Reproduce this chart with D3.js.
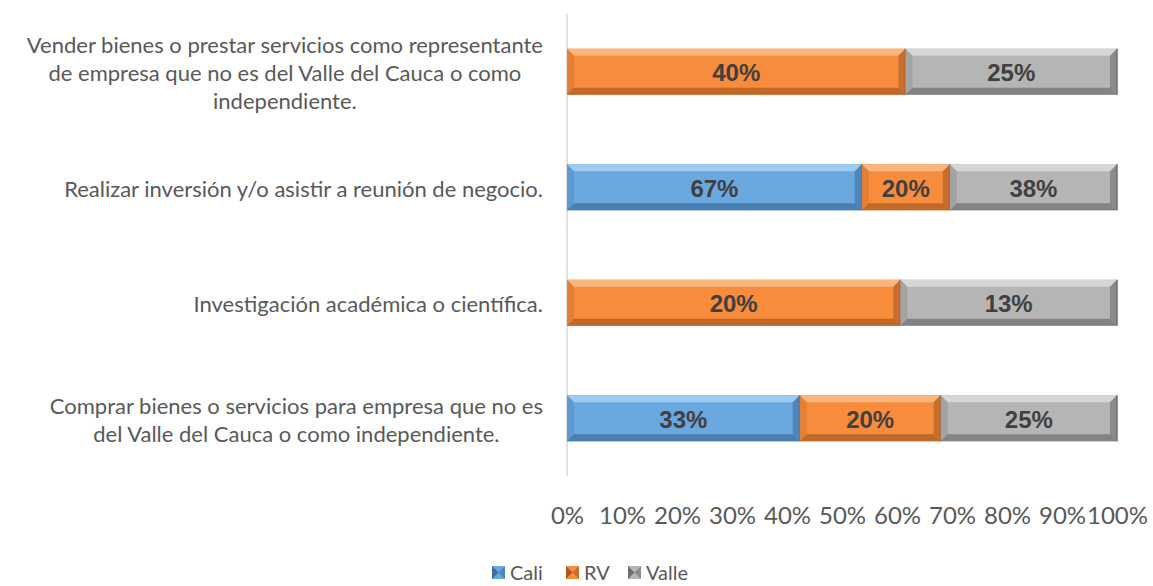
<!DOCTYPE html>
<html>
<head>
<meta charset="utf-8">
<script src="https://cdn.jsdelivr.net/npm/d3@7"></script>
<style>
  body { margin: 0; background: #fff; }
  svg { display: block; }
</style>
</head>
<body>
<svg id="chart" width="1153" height="586"></svg>
<script>
// datos
const categories = [
    ['Vender bienes o prestar servicios como representante', 'de empresa que no es del Valle del Cauca o como', 'independiente.'],
    ['Realizar inversión y/o asistir a reunión de negocio.'],
    ['Investigación académica o científica.'],
    ['Comprar bienes o servicios para empresa que no es', 'del Valle del Cauca o como independiente.']
];
const series = ['Cali', 'RV', 'Valle'];
const cali = [0, 67, 0, 33];
const rv = [40, 20, 20, 20];
const valle = [25, 38, 13, 25];
const ticks = [0, 10, 20, 30, 40, 50, 60, 70, 80, 90, 100];

const colors = { Cali: '#6aa8e0', RV: '#f78c3c', Valle: '#b5b5b5' };
const lightC = { Cali: '#a9d2f5', RV: '#fbc08f', Valle: '#dedede' };
const darkC = { Cali: '#3d6e9c', RV: '#a85a22', Valle: '#6e6e6e' };

const svg = d3.select('#chart');
const margin = { left: 567, right: 36, top: 14, bottom: 110 };
const width = 1153, height = 586;
const labelFont = 'Lato, Open Sans, sans-serif';

const x = d3.scaleLinear().domain([0, 100]).range([margin.left, width - margin.right]);
const y = d3.scaleBand().domain(d3.range(categories.length))
    .range([margin.top, height - margin.bottom]).paddingInner(0.6).paddingOuter(0.3);

// armar filas 100% apiladas
const rows = categories.map((c, i) => {
    const vals = { Cali: cali[i], RV: rv[i], Valle: valle[i] };
    const total = cali[i] + rv[i] + valle[i];
    let acc = 0;
    return series.filter(s => vals[s] > 0).map(s => {
        const seg = { key: s, row: i, v: vals[s], x0: acc, x1: acc + vals[s] / total * 100 };
        acc = seg.x1;
        return seg;
    });
});

// eje vertical
svg.append('line')
    .attr('x1', x(0)).attr('x2', x(0))
    .attr('y1', margin.top).attr('y2', height - margin.bottom)
    .attr('stroke', '#d9d9d9').attr('stroke-width', 1.5);

// barras con bisel
const b = 7;
rows.flat().forEach(d => {
    const x0 = x(d.x0), x1 = x(d.x1), y0 = y(d.row), h = y.bandwidth(), y1 = y0 + h;
    const g = svg.append('g');
    g.append('rect').attr('x', x0).attr('y', y0).attr('width', x1 - x0).attr('height', h)
        .attr('fill', colors[d.key]);
    const poly = (pts, fill, op) => g.append('polygon')
        .attr('points', pts.map(p => p.join(',')).join(' '))
        .attr('fill', fill).attr('opacity', op);
    poly([[x0, y0], [x1, y0], [x1 - b, y0 + b], [x0 + b, y0 + b]], lightC[d.key], 0.8);
    poly([[x0, y1], [x1, y1], [x1 - b, y1 - b], [x0 + b, y1 - b]], darkC[d.key], 0.7);
    poly([[x0, y0], [x0 + b, y0 + b], [x0 + b, y1 - b], [x0, y1]], darkC[d.key], 0.25);
    poly([[x1, y0], [x1 - b, y0 + b], [x1 - b, y1 - b], [x1, y1]], darkC[d.key], 0.6);
    g.append('line').attr('x1', x1).attr('x2', x1).attr('y1', y0).attr('y2', y1)
        .attr('stroke', darkC[d.key]).attr('stroke-width', 1.5);
    g.append('text')
        .attr('x', (x0 + x1) / 2).attr('y', y0 + h / 2 + 1)
        .attr('text-anchor', 'middle').attr('dominant-baseline', 'central')
        .attr('font-family', 'Liberation Sans, Arial, sans-serif')
        .attr('font-weight', 'bold').attr('font-size', 24).attr('fill', '#404040')
        .text(d.v + '%');
});

// etiquetas de categoría
const lineH = 28;
categories.forEach((lines, i) => {
    const t = svg.append('text')
        .attr('font-family', labelFont)
        .attr('font-size', 22).attr('fill', '#595959')
        .attr('text-anchor', 'middle');
    const cy = y(i) + y.bandwidth() / 2 + 1;
    const spans = lines.map((l, k) => t.append('tspan').text(l)
        .attr('y', cy + (k - (lines.length - 1) / 2) * lineH)
        .attr('dominant-baseline', 'central'));
    const maxW = d3.max(spans, s => s.node().getComputedTextLength());
    spans.forEach(s => s.attr('x', 543 - maxW / 2));
});

// eje x
const xAxis = svg.append('g')
    .attr('transform', `translate(0,${height - margin.bottom + 28})`)
    .call(d3.axisBottom(x).tickValues(ticks).tickFormat(d => d + '%').tickSize(0));
xAxis.select('.domain').remove();
xAxis.selectAll('text')
    .attr('font-family', labelFont)
    .attr('font-size', 24).attr('fill', '#595959');

// leyenda
const legendX = [492, 566, 628];
series.forEach((s, i) => {
    const g = svg.append('g').attr('transform', `translate(${legendX[i]},566)`);
    g.append('rect').attr('width', 13).attr('height', 13).attr('fill', colors[s]);
    g.append('polygon').attr('points', '0,0 6.5,6.5 0,13').attr('fill', darkC[s]);
    g.append('polygon').attr('points', '13,0 6.5,6.5 13,13').attr('fill', darkC[s]).attr('opacity', 0.6);
    g.append('text').attr('x', 18).attr('y', 14)
        .attr('font-family', labelFont)
        .attr('font-size', 20).attr('fill', '#595959')
        .text(s);
});
</script>
</body>
</html>
